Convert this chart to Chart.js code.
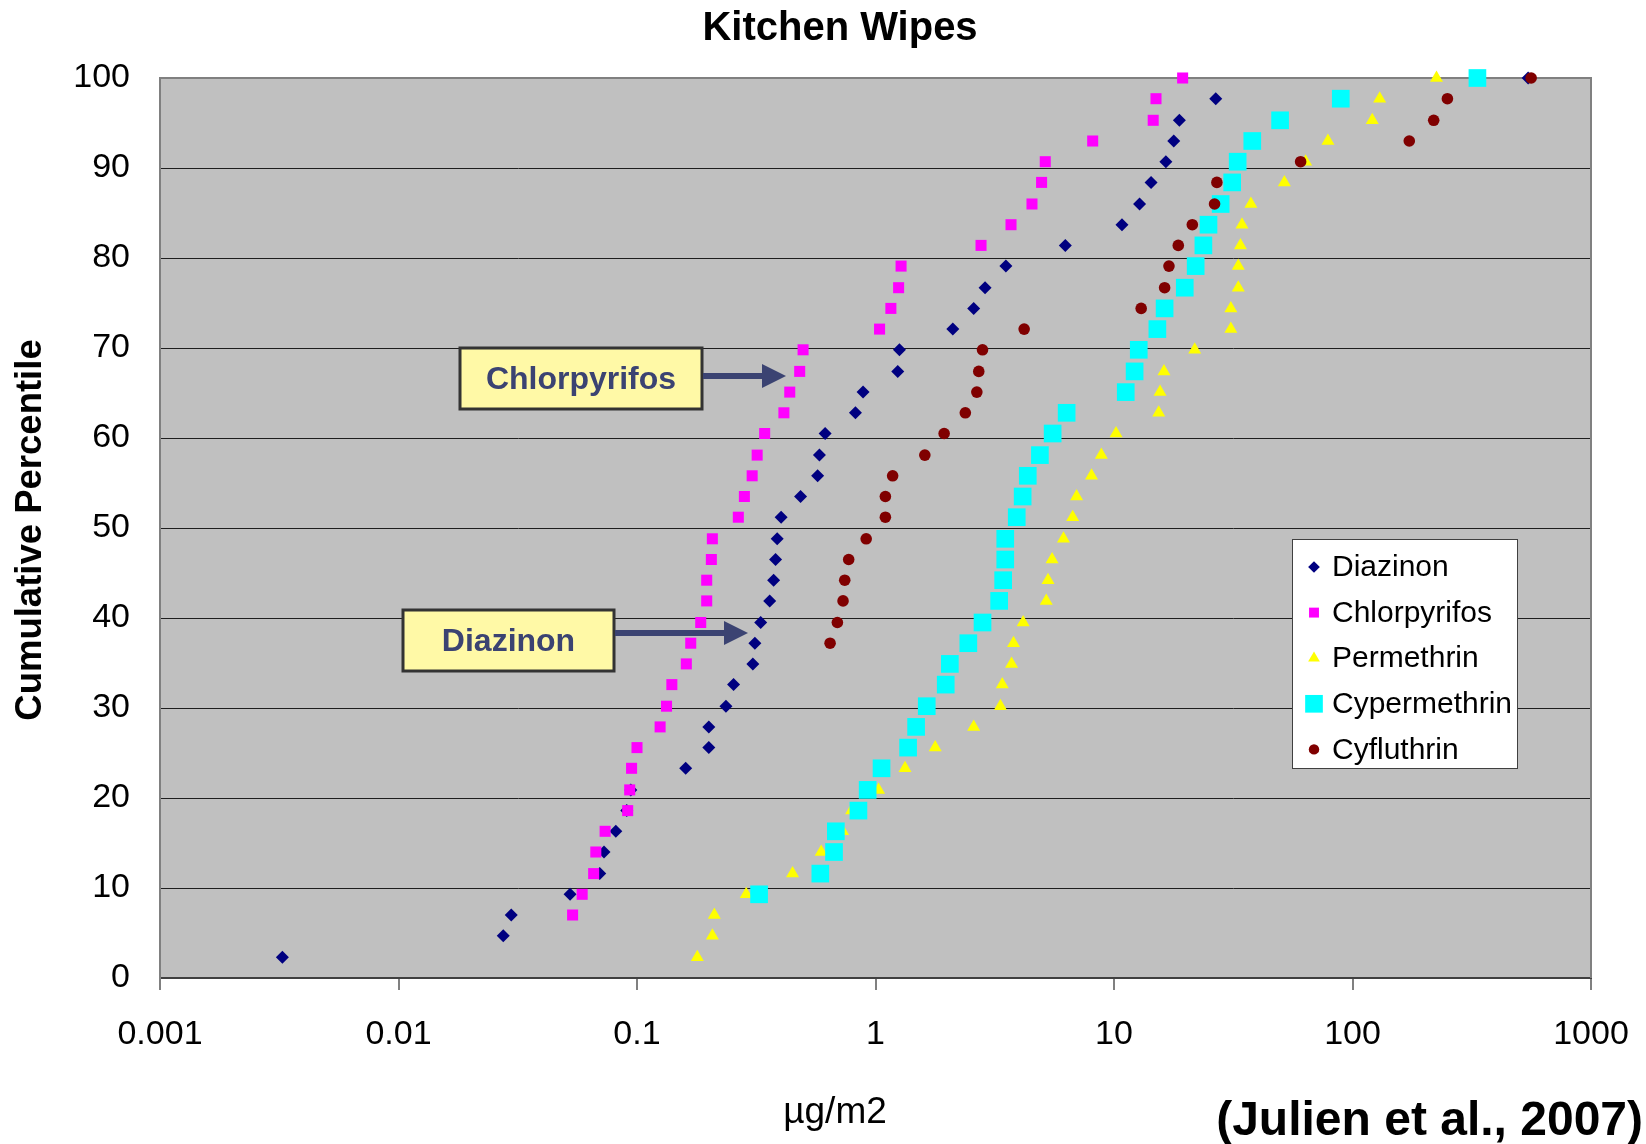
<!DOCTYPE html>
<html>
<head>
<meta charset="utf-8">
<title>Kitchen Wipes</title>
<script src="https://cdn.jsdelivr.net/npm/chart.js@4.4.1/dist/chart.umd.min.js"></script>
<style>
  body { margin: 0; background: #ffffff; }
  #wrap { width: 1646px; height: 1144px; }
</style>
</head>
<body>
<div id="wrap"><canvas id="myChart" width="1646" height="1144"></canvas></div>
<script>
// cumulative percentile of each sample rank (43 wipes)
var percentiles = [2.3, 4.7, 7.0, 9.3, 11.6, 14.0, 16.3, 18.6, 20.9, 23.3, 25.6, 27.9, 30.2, 32.6, 34.9,
  37.2, 39.5, 41.9, 44.2, 46.5, 48.8, 51.2, 53.5, 55.8, 58.1, 60.5, 62.8, 65.1, 67.4, 69.8,
  72.1, 74.4, 76.7, 79.1, 81.4, 83.7, 86.0, 88.4, 90.7, 93.0, 95.3, 97.7, 100];

// ug/m2, null = not plotted (below detection)
var diazinon = [0.00326, 0.0275, 0.0297, 0.0524, 0.0698, 0.0727, 0.0815, 0.0906, 0.0942, 0.160,
  0.200, 0.200, 0.236, 0.254, 0.306, 0.312, 0.330, 0.360, 0.374, 0.381, 0.387, 0.402, 0.485,
  0.572, 0.582, 0.615, 0.824, 0.887, 1.24, 1.26, 2.11, 2.58, 2.88, 3.52, 6.25, 10.8, 12.8,
  14.3, 16.5, 17.8, 18.8, 26.7, 545];
var chlorpyrifos = [null, null, 0.0537, 0.0589, 0.0658, 0.0672, 0.0735, 0.0914, 0.0932, 0.0949,
  0.100, 0.125, 0.133, 0.140, 0.161, 0.168, 0.185, 0.196, 0.196, 0.205, 0.207, 0.266, 0.282,
  0.304, 0.319, 0.343, 0.413, 0.437, 0.481, 0.497, 1.04, 1.16, 1.25, 1.28, 2.77, 3.70, 4.53,
  4.97, 5.15, 8.14, 14.6, 15.0, 19.4];
var permethrin = [0.179, 0.207, 0.211, 0.287, 0.449, 0.592, 0.728, 0.794, 1.03, 1.33, 1.78,
  2.58, 3.34, 3.40, 3.72, 3.79, 4.16, 5.20, 5.29, 5.50, 6.14, 6.71, 6.97, 8.05, 8.85, 10.2,
  15.4, 15.6, 16.2, 21.8, 30.9, 30.9, 33.2, 33.2, 33.9, 34.4, 37.5, 51.8, 63.6, 78.9, 121,
  130, 225];
var cypermethrin = [null, null, null, 0.325, 0.587, 0.670, 0.682, 0.848, 0.927, 1.06, 1.37,
  1.48, 1.64, 1.97, 2.05, 2.45, 2.81, 3.30, 3.43, 3.50, 3.50, 3.91, 4.14, 4.35, 4.89, 5.53,
  6.33, 11.2, 12.2, 12.7, 15.2, 16.3, 19.8, 22.0, 23.7, 24.9, 28.0, 31.3, 33.0, 38.0, 49.7,
  89.3, 334];
var cyfluthrin = [null, null, null, null, null, null, null, null, null, null, null, null, null,
  null, null, 0.645, 0.692, 0.731, 0.743, 0.772, 0.914, 1.10, 1.10, 1.18, 1.61, 1.94, 2.38,
  2.66, 2.71, 2.81, 4.20, 13.0, 16.3, 17.0, 18.6, 21.3, 26.4, 27.0, 60.6, 173, 219, 250, 561];

var xTickValues = [0.001, 0.01, 0.1, 1, 10, 100, 1000];
var xTickLabels = ['0.001', '0.01', '0.1', '1', '10', '100', '1000'];

var FONT = "'Liberation Sans', Arial, Helvetica, sans-serif";

function toPoints(vals) {
  var pts = [];
  for (var i = 0; i < vals.length; i++) {
    if (vals[i] != null) pts.push({x: vals[i], y: percentiles[i]});
  }
  return pts;
}

function series(label, vals, color, style, radius, order) {
  return {
    label: label,
    data: toPoints(vals),
    pointStyle: style,
    pointRadius: radius,
    pointHoverRadius: radius,
    backgroundColor: color,
    borderColor: color,
    borderWidth: 0,
    showLine: false,
    clip: false,
    order: order
  };
}

// later series sit on top (like the excel original)
var datasets = [
  series('Diazinon', diazinon, '#000080', 'rectRot', 6.5, 4),
  series('Chlorpyrifos', chlorpyrifos, '#FF00FF', 'rect', 7.8, 3),
  series('Permethrin', permethrin, '#FFFF00', 'triangle', 7.5, 2),
  series('Cypermethrin', cypermethrin, '#00FFFF', 'rect', 12.5, 1),
  series('Cyfluthrin', cyfluthrin, '#800000', 'circle', 5.8, 0)
];

function marker(ctx, style, r, x, y, color) {
  ctx.save();
  ctx.fillStyle = color;
  ctx.beginPath();
  if (style == 'rectRot') {
    ctx.moveTo(x - r, y); ctx.lineTo(x, y - r); ctx.lineTo(x + r, y); ctx.lineTo(x, y + r);
  } else if (style == 'rect') {
    var s = Math.SQRT1_2 * r;
    ctx.rect(x - s, y - s, 2 * s, 2 * s);
  } else if (style == 'triangle') {
    for (var k = 0; k < 3; k++) {
      var a = k * 2 * Math.PI / 3;
      var px = x + Math.sin(a) * r, py = y - Math.cos(a) * r;
      if (k == 0) ctx.moveTo(px, py); else ctx.lineTo(px, py);
    }
  } else {
    ctx.arc(x, y, r, 0, Math.PI * 2);
  }
  ctx.closePath();
  ctx.fill();
  ctx.restore();
}

function calloutBox(ctx, text, bx, by, bw, bh, textY, arrowY, tipX) {
  var col = '#3B4372';
  ctx.save();
  ctx.fillStyle = '#FFF9A6';
  ctx.fillRect(bx, by, bw, bh);
  ctx.strokeStyle = '#333333';
  ctx.lineWidth = 3;
  ctx.strokeRect(bx, by, bw, bh);
  ctx.fillStyle = col;
  ctx.font = 'bold 32px ' + FONT;
  ctx.textAlign = 'center';
  ctx.textBaseline = 'middle';
  ctx.fillText(text, bx + bw / 2, textY);
  // arrow
  var headStart = tipX - 24;
  ctx.fillRect(bx + bw + 1, arrowY - 3, headStart - (bx + bw + 1), 6);
  ctx.beginPath();
  ctx.moveTo(headStart, arrowY - 12);
  ctx.lineTo(tipX, arrowY);
  ctx.lineTo(headStart, arrowY + 12);
  ctx.closePath();
  ctx.fill();
  ctx.restore();
}

var decorPlugin = {
  id: 'decor',
  beforeDraw: function (chart) {
    var ctx = chart.ctx, a = chart.chartArea;
    ctx.save();
    ctx.fillStyle = '#ffffff';
    ctx.fillRect(0, 0, chart.width, chart.height);
    ctx.fillStyle = '#C0C0C0';
    ctx.fillRect(a.left, a.top, a.right - a.left, a.bottom - a.top);
    ctx.restore();
  },
  beforeDatasetsDraw: function (chart) {
    var ctx = chart.ctx, a = chart.chartArea;
    ctx.save();
    ctx.strokeStyle = '#808080';
    ctx.lineWidth = 2;
    ctx.beginPath();
    ctx.moveTo(a.left, a.top);
    ctx.lineTo(a.right, a.top);
    ctx.lineTo(a.right, a.bottom);
    ctx.stroke();
    ctx.restore();
  },
  afterDraw: function (chart) {
    var ctx = chart.ctx;

    calloutBox(ctx, 'Chlorpyrifos', 460, 348, 242, 61, 380, 376, 786);
    calloutBox(ctx, 'Diazinon', 403, 610, 211, 61, 642, 633, 748);

    // legend
    ctx.save();
    ctx.fillStyle = '#ffffff';
    ctx.fillRect(1292, 539, 225, 229);
    ctx.strokeStyle = '#404040';
    ctx.lineWidth = 1;
    ctx.strokeRect(1292.5, 539.5, 225, 229);
    ctx.font = '30px ' + FONT;
    ctx.textAlign = 'left';
    ctx.textBaseline = 'middle';
    chart.data.datasets.forEach(function (ds, i) {
      var y = 567 + i * 45.6;
      var r = ds.pointStyle == 'rect' && ds.pointRadius > 10 ? 12.5 : ds.pointRadius * 0.9;
      marker(ctx, ds.pointStyle, r, 1314, y, ds.backgroundColor);
      ctx.fillStyle = '#000000';
      ctx.fillText(ds.label, 1332, y + 1);
    });
    ctx.restore();

    // titles and texts
    ctx.save();
    ctx.fillStyle = '#000000';
    ctx.textBaseline = 'middle';
    ctx.textAlign = 'center';
    ctx.font = 'bold 40px ' + FONT;
    ctx.fillText('Kitchen Wipes', 840, 29);
    ctx.font = '37px ' + FONT;
    ctx.fillText('\u00b5g/m2', 835, 1113);
    ctx.textAlign = 'right';
    ctx.font = 'bold 48px ' + FONT;
    ctx.fillText('(Julien et al., 2007)', 1643, 1122);
    ctx.translate(31, 530);
    ctx.rotate(-Math.PI / 2);
    ctx.textAlign = 'center';
    ctx.font = 'bold 36.5px ' + FONT;
    ctx.fillText('Cumulative Percentile', 0, 0);
    ctx.restore();
  }
};

var ctx = document.getElementById('myChart').getContext('2d');
var chart = new Chart(ctx, {
  type: 'scatter',
  data: { datasets: datasets },
  options: {
    responsive: false,
    animation: false,
    layout: { padding: { top: 78, right: 55, left: 0, bottom: 0 } },
    plugins: {
      legend: { display: false },
      tooltip: { enabled: false },
      title: { display: false }
    },
    scales: {
      x: {
        type: 'logarithmic',
        min: 0.001,
        max: 1000,
        afterBuildTicks: function (scale) {
          scale.ticks = xTickValues.map(function (v) { return { value: v }; });
        },
        afterFit: function (scale) {
          scale.height = 166;
          // outer labels fit inside the page margin already
          scale.paddingLeft = 0;
          scale.paddingRight = 0;
        },
        ticks: {
          autoSkip: false,
          maxRotation: 0,
          padding: 24,
          color: '#000000',
          font: { family: FONT, size: 34 },
          callback: function (value, index) { return xTickLabels[index]; }
        },
        grid: { drawOnChartArea: false, drawTicks: true, tickLength: 12, color: '#808080', lineWidth: 2 },
        border: { display: true, color: '#404040', width: 2 }
      },
      y: {
        min: 0,
        max: 100,
        afterFit: function (scale) { scale.width = 160; },
        ticks: {
          stepSize: 10,
          padding: 30,
          color: '#000000',
          font: { family: FONT, size: 34 }
        },
        grid: { color: '#1e1e1e', lineWidth: 1, drawTicks: false },
        border: { display: true, color: '#808080', width: 2 }
      }
    }
  },
  plugins: [decorPlugin]
});
</script>
</body>
</html>
